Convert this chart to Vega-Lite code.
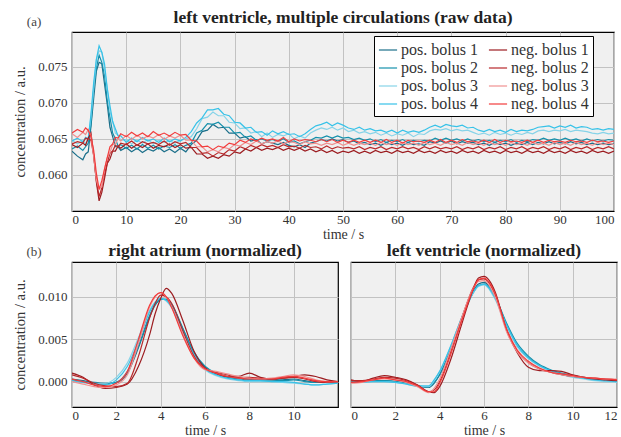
{
"$schema": "https://vega.github.io/schema/vega-lite/v6.json",
"background": "white",
"padding": {"left": 12, "top": 8, "right": 0, "bottom": 0},
"resolve": {"legend": {"color": "independent", "strokeWidth": "independent"}},
"config": {
 "font": "Liberation Serif",
 "view": {"fill": "#f0f0f0", "stroke": "black", "strokeWidth": 1.2},
 "axis": {"grid": true, "gridColor": "#c2c2c2", "gridWidth": 1, "domain": false, "ticks": false, "labelFont": "Liberation Serif", "labelFontSize": 13, "labelColor": "#333", "titleFont": "Liberation Serif", "titleFontSize": 14.5, "titleFontWeight": "normal", "titleColor": "#333"},
 "axisX": {"labelPadding": 2, "titlePadding": 1, "titleFontSize": 14},
 "axisY": {"labelPadding": 5, "titlePadding": 10},
 "title": {"font": "Liberation Serif", "fontSize": 17.5, "fontWeight": "bold", "color": "#222", "frame": "group"},
 "legend": {"orient": "none", "legendX": 302, "legendY": 4, "columns": 2, "columnPadding": 8, "rowPadding": 0, "padding": 4, "labelOffset": 3, "fillColor": "white", "strokeColor": "black", "labelFont": "Liberation Serif", "labelFontSize": 16, "labelColor": "#333", "symbolType": "stroke", "symbolSize": 330}
},
"datasets": {
"raw": [
{"t":0,"p1":0.0633,"p2":0.0636,"p3":0.0648,"p4":0.0647,"n1":0.0642,"n2":0.0643,"n3":0.0657,"n4":0.0658},
{"t":1,"p1":0.0626,"p2":0.0640,"p3":0.0643,"p4":0.0651,"n1":0.0638,"n2":0.0646,"n3":0.0652,"n4":0.0663},
{"t":2,"p1":0.0621,"p2":0.0634,"p3":0.0647,"p4":0.0646,"n1":0.0644,"n2":0.0644,"n3":0.0659,"n4":0.0659},
{"t":2.5,"p1":0.0629,"p2":0.0639,"p3":0.0643,"p4":0.0652,"n1":0.0641,"n2":0.0651,"n3":0.0656,"n4":0.0665},
{"t":3,"p1":0.0632,"p2":0.0644,"p3":0.0650,"p4":0.0650,"n1":0.0651,"n2":0.0650,"n3":0.0663,"n4":0.0662},
{"t":3.5,"p1":0.0667,"p2":0.0670,"p3":0.0680,"p4":0.0684,"n1":0.0658,"n2":0.0648,"n3":0.0654,"n4":0.0653},
{"t":4,"p1":0.0706,"p2":0.0718,"p3":0.0720,"p4":0.0728,"n1":0.0628,"n2":0.0627,"n3":0.0626,"n4":0.0634},
{"t":4.5,"p1":0.0744,"p2":0.0748,"p3":0.0760,"p4":0.0760,"n1":0.0590,"n2":0.0592,"n3":0.0593,"n4":0.0602},
{"t":5,"p1":0.0756,"p2":0.0766,"p3":0.0772,"p4":0.0779,"n1":0.0564,"n2":0.0570,"n3":0.0580,"n4":0.0580},
{"t":5.5,"p1":0.0754,"p2":0.0756,"p3":0.0770,"p4":0.0770,"n1":0.0576,"n2":0.0582,"n3":0.0584,"n4":0.0592},
{"t":6,"p1":0.0726,"p2":0.0738,"p3":0.0746,"p4":0.0754,"n1":0.0595,"n2":0.0600,"n3":0.0608,"n4":0.0608},
{"t":6.5,"p1":0.0698,"p2":0.0703,"p3":0.0720,"p4":0.0720,"n1":0.0616,"n2":0.0616,"n3":0.0624,"n4":0.0624},
{"t":7,"p1":0.0666,"p2":0.0680,"p3":0.0688,"p4":0.0696,"n1":0.0622,"n2":0.0630,"n3":0.0631,"n4":0.0639},
{"t":7.5,"p1":0.0653,"p2":0.0658,"p3":0.0674,"p4":0.0674,"n1":0.0633,"n2":0.0633,"n3":0.0642,"n4":0.0643},
{"t":8,"p1":0.0639,"p2":0.0650,"p3":0.0658,"p4":0.0664,"n1":0.0633,"n2":0.0641,"n3":0.0643,"n4":0.0652},
{"t":8.5,"p1":0.0639,"p2":0.0640,"p3":0.0655,"p4":0.0654,"n1":0.0640,"n2":0.0639,"n3":0.0650,"n4":0.0651},
{"t":9,"p1":0.0634,"p2":0.0642,"p3":0.0648,"p4":0.0654,"n1":0.0637,"n2":0.0644,"n3":0.0647,"n4":0.0657},
{"t":10,"p1":0.0638,"p2":0.0637,"p3":0.0649,"p4":0.0645,"n1":0.0643,"n2":0.0642,"n3":0.0655,"n4":0.0653},
{"t":11,"p1":0.0632,"p2":0.0641,"p3":0.0643,"p4":0.0651,"n1":0.0637,"n2":0.0647,"n3":0.0649,"n4":0.0659},
{"t":12,"p1":0.0637,"p2":0.0636,"p3":0.0648,"p4":0.0646,"n1":0.0642,"n2":0.0641,"n3":0.0655,"n4":0.0654},
{"t":13,"p1":0.0631,"p2":0.0642,"p3":0.0644,"p4":0.0652,"n1":0.0638,"n2":0.0646,"n3":0.0650,"n4":0.0658},
{"t":14,"p1":0.0636,"p2":0.0637,"p3":0.0649,"p4":0.0647,"n1":0.0643,"n2":0.0643,"n3":0.0654,"n4":0.0653},
{"t":15,"p1":0.0633,"p2":0.0641,"p3":0.0643,"p4":0.0650,"n1":0.0637,"n2":0.0645,"n3":0.0651,"n4":0.0660},
{"t":16,"p1":0.0638,"p2":0.0636,"p3":0.0648,"p4":0.0645,"n1":0.0641,"n2":0.0642,"n3":0.0656,"n4":0.0655},
{"t":17,"p1":0.0632,"p2":0.0640,"p3":0.0645,"p4":0.0651,"n1":0.0639,"n2":0.0647,"n3":0.0649,"n4":0.0658},
{"t":18,"p1":0.0636,"p2":0.0638,"p3":0.0647,"p4":0.0646,"n1":0.0643,"n2":0.0641,"n3":0.0654,"n4":0.0654},
{"t":19,"p1":0.0631,"p2":0.0642,"p3":0.0644,"p4":0.0650,"n1":0.0638,"n2":0.0646,"n3":0.0651,"n4":0.0659},
{"t":20,"p1":0.0637,"p2":0.0637,"p3":0.0648,"p4":0.0647,"n1":0.0642,"n2":0.0643,"n3":0.0655,"n4":0.0655},
{"t":21,"p1":0.0632,"p2":0.0641,"p3":0.0650,"p4":0.0652,"n1":0.0637,"n2":0.0645,"n3":0.0648,"n4":0.0656},
{"t":22,"p1":0.0642,"p2":0.0644,"p3":0.0653,"p4":0.0660,"n1":0.0638,"n2":0.0638,"n3":0.0648,"n4":0.0648},
{"t":23,"p1":0.0648,"p2":0.0658,"p3":0.0664,"p4":0.0672,"n1":0.0629,"n2":0.0638,"n3":0.0639,"n4":0.0647},
{"t":24,"p1":0.0660,"p2":0.0662,"p3":0.0678,"p4":0.0679,"n1":0.0629,"n2":0.0630,"n3":0.0639,"n4":0.0639},
{"t":25,"p1":0.0662,"p2":0.0671,"p3":0.0680,"p4":0.0690,"n1":0.0623,"n2":0.0631,"n3":0.0632,"n4":0.0640},
{"t":26,"p1":0.0670,"p2":0.0670,"p3":0.0687,"p4":0.0690,"n1":0.0626,"n2":0.0626,"n3":0.0635,"n4":0.0635},
{"t":27,"p1":0.0665,"p2":0.0673,"p3":0.0682,"p4":0.0692,"n1":0.0623,"n2":0.0631,"n3":0.0632,"n4":0.0640},
{"t":28,"p1":0.0666,"p2":0.0666,"p3":0.0682,"p4":0.0684,"n1":0.0628,"n2":0.0629,"n3":0.0638,"n4":0.0638},
{"t":29,"p1":0.0658,"p2":0.0666,"p3":0.0673,"p4":0.0682,"n1":0.0626,"n2":0.0635,"n3":0.0636,"n4":0.0644},
{"t":30,"p1":0.0658,"p2":0.0658,"p3":0.0672,"p4":0.0673,"n1":0.0632,"n2":0.0633,"n3":0.0642,"n4":0.0642},
{"t":31,"p1":0.0651,"p2":0.0659,"p3":0.0664,"p4":0.0672,"n1":0.0630,"n2":0.0639,"n3":0.0640,"n4":0.0648},
{"t":32,"p1":0.0653,"p2":0.0652,"p3":0.0665,"p4":0.0665,"n1":0.0636,"n2":0.0636,"n3":0.0645,"n4":0.0645},
{"t":33,"p1":0.0647,"p2":0.0654,"p3":0.0658,"p4":0.0666,"n1":0.0633,"n2":0.0641,"n3":0.0642,"n4":0.0650},
{"t":34,"p1":0.0649,"p2":0.0648,"p3":0.0660,"p4":0.0659,"n1":0.0638,"n2":0.0638,"n3":0.0647,"n4":0.0647},
{"t":35,"p1":0.0643,"p2":0.0650,"p3":0.0653,"p4":0.0660,"n1":0.0634,"n2":0.0642,"n3":0.0643,"n4":0.0651},
{"t":36,"p1":0.0646,"p2":0.0647,"p3":0.0658,"p4":0.0655,"n1":0.0637,"n2":0.0639,"n3":0.0646,"n4":0.0648},
{"t":37,"p1":0.0644,"p2":0.0649,"p3":0.0652,"p4":0.0661,"n1":0.0635,"n2":0.0641,"n3":0.0644,"n4":0.0650},
{"t":38,"p1":0.0642,"p2":0.0646,"p3":0.0656,"p4":0.0657,"n1":0.0638,"n2":0.0638,"n3":0.0647,"n4":0.0647},
{"t":39,"p1":0.0645,"p2":0.0650,"p3":0.0654,"p4":0.0660,"n1":0.0634,"n2":0.0642,"n3":0.0643,"n4":0.0652},
{"t":40,"p1":0.0641,"p2":0.0645,"p3":0.0657,"p4":0.0656,"n1":0.0637,"n2":0.0639,"n3":0.0646,"n4":0.0646},
{"t":41,"p1":0.0639,"p2":0.0647,"p3":0.0650,"p4":0.0657,"n1":0.0634,"n2":0.0640,"n3":0.0645,"n4":0.0650},
{"t":42,"p1":0.0642,"p2":0.0643,"p3":0.0654,"p4":0.0653,"n1":0.0637,"n2":0.0637,"n3":0.0642,"n4":0.0647},
{"t":43,"p1":0.0638,"p2":0.0646,"p3":0.0651,"p4":0.0657,"n1":0.0633,"n2":0.0641,"n3":0.0646,"n4":0.0649},
{"t":44,"p1":0.0644,"p2":0.0648,"p3":0.0658,"p4":0.0663,"n1":0.0636,"n2":0.0638,"n3":0.0643,"n4":0.0648},
{"t":45,"p1":0.0646,"p2":0.0652,"p3":0.0662,"p4":0.0668,"n1":0.0632,"n2":0.0639,"n3":0.0644,"n4":0.0646},
{"t":46,"p1":0.0649,"p2":0.0651,"p3":0.0665,"p4":0.0670,"n1":0.0635,"n2":0.0636,"n3":0.0641,"n4":0.0649},
{"t":47,"p1":0.0647,"p2":0.0654,"p3":0.0663,"p4":0.0673,"n1":0.0631,"n2":0.0640,"n3":0.0644,"n4":0.0646},
{"t":48,"p1":0.0650,"p2":0.0651,"p3":0.0666,"p4":0.0668,"n1":0.0634,"n2":0.0636,"n3":0.0642,"n4":0.0649},
{"t":49,"p1":0.0647,"p2":0.0654,"p3":0.0662,"p4":0.0672,"n1":0.0630,"n2":0.0639,"n3":0.0645,"n4":0.0645},
{"t":50,"p1":0.0649,"p2":0.0651,"p3":0.0665,"p4":0.0669,"n1":0.0633,"n2":0.0637,"n3":0.0641,"n4":0.0648},
{"t":51,"p1":0.0645,"p2":0.0652,"p3":0.0660,"p4":0.0665,"n1":0.0631,"n2":0.0638,"n3":0.0644,"n4":0.0645},
{"t":52,"p1":0.0647,"p2":0.0649,"p3":0.0662,"p4":0.0663,"n1":0.0634,"n2":0.0636,"n3":0.0641,"n4":0.0648},
{"t":53,"p1":0.0643,"p2":0.0651,"p3":0.0658,"p4":0.0666,"n1":0.0630,"n2":0.0639,"n3":0.0644,"n4":0.0645},
{"t":54,"p1":0.0645,"p2":0.0648,"p3":0.0660,"p4":0.0662,"n1":0.0633,"n2":0.0635,"n3":0.0642,"n4":0.0648},
{"t":55,"p1":0.0642,"p2":0.0650,"p3":0.0657,"p4":0.0664,"n1":0.0630,"n2":0.0638,"n3":0.0644,"n4":0.0645},
{"t":56,"p1":0.0644,"p2":0.0646,"p3":0.0659,"p4":0.0661,"n1":0.0634,"n2":0.0636,"n3":0.0641,"n4":0.0648},
{"t":57,"p1":0.0641,"p2":0.0649,"p3":0.0655,"p4":0.0662,"n1":0.0631,"n2":0.0639,"n3":0.0645,"n4":0.0645},
{"t":58,"p1":0.0645,"p2":0.0645,"p3":0.0658,"p4":0.0659,"n1":0.0633,"n2":0.0635,"n3":0.0642,"n4":0.0649},
{"t":59,"p1":0.0642,"p2":0.0648,"p3":0.0654,"p4":0.0662,"n1":0.0630,"n2":0.0638,"n3":0.0644,"n4":0.0645},
{"t":60,"p1":0.0644,"p2":0.0646,"p3":0.0657,"p4":0.0658,"n1":0.0634,"n2":0.0636,"n3":0.0641,"n4":0.0648},
{"t":61,"p1":0.0641,"p2":0.0649,"p3":0.0655,"p4":0.0662,"n1":0.0631,"n2":0.0639,"n3":0.0645,"n4":0.0644},
{"t":62,"p1":0.0645,"p2":0.0645,"p3":0.0658,"p4":0.0659,"n1":0.0633,"n2":0.0636,"n3":0.0642,"n4":0.0648},
{"t":63,"p1":0.0642,"p2":0.0648,"p3":0.0653,"p4":0.0661,"n1":0.0630,"n2":0.0638,"n3":0.0644,"n4":0.0646},
{"t":64,"p1":0.0643,"p2":0.0646,"p3":0.0657,"p4":0.0659,"n1":0.0634,"n2":0.0635,"n3":0.0641,"n4":0.0647},
{"t":65,"p1":0.0641,"p2":0.0648,"p3":0.0656,"p4":0.0662,"n1":0.0631,"n2":0.0639,"n3":0.0645,"n4":0.0645},
{"t":66,"p1":0.0646,"p2":0.0647,"p3":0.0661,"p4":0.0666,"n1":0.0633,"n2":0.0636,"n3":0.0642,"n4":0.0648},
{"t":67,"p1":0.0644,"p2":0.0651,"p3":0.0663,"p4":0.0669,"n1":0.0630,"n2":0.0639,"n3":0.0644,"n4":0.0645},
{"t":68,"p1":0.0647,"p2":0.0648,"p3":0.0662,"p4":0.0666,"n1":0.0634,"n2":0.0636,"n3":0.0641,"n4":0.0649},
{"t":69,"p1":0.0644,"p2":0.0651,"p3":0.0664,"p4":0.0670,"n1":0.0631,"n2":0.0638,"n3":0.0645,"n4":0.0645},
{"t":70,"p1":0.0647,"p2":0.0648,"p3":0.0661,"p4":0.0668,"n1":0.0633,"n2":0.0636,"n3":0.0642,"n4":0.0648},
{"t":71,"p1":0.0643,"p2":0.0650,"p3":0.0663,"p4":0.0667,"n1":0.0630,"n2":0.0639,"n3":0.0644,"n4":0.0645},
{"t":72,"p1":0.0646,"p2":0.0647,"p3":0.0661,"p4":0.0669,"n1":0.0634,"n2":0.0635,"n3":0.0641,"n4":0.0649},
{"t":73,"p1":0.0644,"p2":0.0650,"p3":0.0662,"p4":0.0665,"n1":0.0631,"n2":0.0638,"n3":0.0645,"n4":0.0646},
{"t":74,"p1":0.0645,"p2":0.0647,"p3":0.0659,"p4":0.0666,"n1":0.0633,"n2":0.0636,"n3":0.0642,"n4":0.0647},
{"t":75,"p1":0.0642,"p2":0.0649,"p3":0.0656,"p4":0.0662,"n1":0.0630,"n2":0.0639,"n3":0.0644,"n4":0.0645},
{"t":76,"p1":0.0644,"p2":0.0646,"p3":0.0658,"p4":0.0660,"n1":0.0634,"n2":0.0635,"n3":0.0641,"n4":0.0648},
{"t":77,"p1":0.0641,"p2":0.0648,"p3":0.0655,"p4":0.0663,"n1":0.0631,"n2":0.0638,"n3":0.0645,"n4":0.0645},
{"t":78,"p1":0.0645,"p2":0.0645,"p3":0.0659,"p4":0.0660,"n1":0.0633,"n2":0.0636,"n3":0.0642,"n4":0.0649},
{"t":79,"p1":0.0642,"p2":0.0648,"p3":0.0656,"p4":0.0662,"n1":0.0630,"n2":0.0639,"n3":0.0644,"n4":0.0645},
{"t":80,"p1":0.0644,"p2":0.0646,"p3":0.0658,"p4":0.0659,"n1":0.0634,"n2":0.0635,"n3":0.0641,"n4":0.0648},
{"t":81,"p1":0.0641,"p2":0.0649,"p3":0.0655,"p4":0.0663,"n1":0.0631,"n2":0.0638,"n3":0.0645,"n4":0.0646},
{"t":82,"p1":0.0644,"p2":0.0645,"p3":0.0658,"p4":0.0660,"n1":0.0633,"n2":0.0636,"n3":0.0642,"n4":0.0647},
{"t":83,"p1":0.0642,"p2":0.0648,"p3":0.0656,"p4":0.0662,"n1":0.0630,"n2":0.0639,"n3":0.0644,"n4":0.0645},
{"t":84,"p1":0.0645,"p2":0.0646,"p3":0.0659,"p4":0.0661,"n1":0.0634,"n2":0.0635,"n3":0.0641,"n4":0.0648},
{"t":85,"p1":0.0642,"p2":0.0649,"p3":0.0657,"p4":0.0663,"n1":0.0631,"n2":0.0638,"n3":0.0645,"n4":0.0645},
{"t":86,"p1":0.0645,"p2":0.0648,"p3":0.0661,"p4":0.0666,"n1":0.0633,"n2":0.0636,"n3":0.0642,"n4":0.0648},
{"t":87,"p1":0.0643,"p2":0.0651,"p3":0.0662,"p4":0.0667,"n1":0.0630,"n2":0.0639,"n3":0.0644,"n4":0.0645},
{"t":88,"p1":0.0646,"p2":0.0648,"p3":0.0660,"p4":0.0668,"n1":0.0634,"n2":0.0635,"n3":0.0641,"n4":0.0648},
{"t":89,"p1":0.0643,"p2":0.0650,"p3":0.0662,"p4":0.0665,"n1":0.0631,"n2":0.0638,"n3":0.0645,"n4":0.0646},
{"t":90,"p1":0.0645,"p2":0.0648,"p3":0.0661,"p4":0.0668,"n1":0.0633,"n2":0.0636,"n3":0.0642,"n4":0.0647},
{"t":91,"p1":0.0643,"p2":0.0651,"p3":0.0663,"p4":0.0666,"n1":0.0630,"n2":0.0639,"n3":0.0644,"n4":0.0645},
{"t":92,"p1":0.0646,"p2":0.0648,"p3":0.0660,"p4":0.0669,"n1":0.0634,"n2":0.0635,"n3":0.0641,"n4":0.0648},
{"t":93,"p1":0.0643,"p2":0.0650,"p3":0.0662,"p4":0.0665,"n1":0.0631,"n2":0.0638,"n3":0.0645,"n4":0.0646},
{"t":94,"p1":0.0645,"p2":0.0647,"p3":0.0661,"p4":0.0667,"n1":0.0633,"n2":0.0636,"n3":0.0642,"n4":0.0647},
{"t":95,"p1":0.0642,"p2":0.0650,"p3":0.0660,"p4":0.0666,"n1":0.0630,"n2":0.0639,"n3":0.0644,"n4":0.0645},
{"t":96,"p1":0.0644,"p2":0.0647,"p3":0.0658,"p4":0.0663,"n1":0.0634,"n2":0.0635,"n3":0.0641,"n4":0.0648},
{"t":97,"p1":0.0642,"p2":0.0649,"p3":0.0657,"p4":0.0664,"n1":0.0631,"n2":0.0638,"n3":0.0645,"n4":0.0646},
{"t":98,"p1":0.0644,"p2":0.0647,"p3":0.0659,"p4":0.0662,"n1":0.0633,"n2":0.0636,"n3":0.0642,"n4":0.0647},
{"t":99,"p1":0.0642,"p2":0.0649,"p3":0.0657,"p4":0.0664,"n1":0.0630,"n2":0.0639,"n3":0.0644,"n4":0.0645},
{"t":100,"p1":0.0643,"p2":0.0648,"p3":0.0658,"p4":0.0663,"n1":0.0633,"n2":0.0636,"n3":0.0642,"n4":0.0647}
],
"ra": [
{"t":0,"p1":0.0003,"p2":0.0002,"p3":0.0000,"p4":0.0001,"n1":0.0010,"n2":0.0008,"n3":0.0000,"n4":0.0003},
{"t":0.5,"p1":0.0001,"p2":0.0000,"p3":-0.0001,"p4":-0.0001,"n1":0.0005,"n2":0.0004,"n3":-0.0003,"n4":0.0000},
{"t":1,"p1":-0.0001,"p2":-0.0002,"p3":-0.0002,"p4":-0.0003,"n1":-0.0004,"n2":-0.0002,"n3":-0.0006,"n4":-0.0004},
{"t":1.5,"p1":-0.0002,"p2":-0.0003,"p3":-0.0002,"p4":-0.0004,"n1":-0.0008,"n2":-0.0005,"n3":-0.0007,"n4":-0.0006},
{"t":2,"p1":-0.0001,"p2":-0.0001,"p3":0.0005,"p4":0.0002,"n1":-0.0007,"n2":-0.0006,"n3":-0.0004,"n4":-0.0002},
{"t":2.5,"p1":0.0010,"p2":0.0012,"p3":0.0022,"p4":0.0018,"n1":-0.0003,"n2":-0.0002,"n3":0.0008,"n4":0.0012},
{"t":3,"p1":0.0040,"p2":0.0042,"p3":0.0052,"p4":0.0048,"n1":0.0018,"n2":0.0030,"n3":0.0045,"n4":0.0050},
{"t":3.5,"p1":0.0076,"p2":0.0078,"p3":0.0084,"p4":0.0082,"n1":0.0055,"n2":0.0075,"n3":0.0088,"n4":0.0090},
{"t":3.75,"p1":0.0090,"p2":0.0091,"p3":0.0094,"p4":0.0093,"n1":0.0080,"n2":0.0092,"n3":0.0100,"n4":0.0101},
{"t":4,"p1":0.0097,"p2":0.0097,"p3":0.0098,"p4":0.0098,"n1":0.0098,"n2":0.0102,"n3":0.0105,"n4":0.0105},
{"t":4.25,"p1":0.0097,"p2":0.0097,"p3":0.0095,"p4":0.0096,"n1":0.0110,"n2":0.0100,"n3":0.0100,"n4":0.0100},
{"t":4.5,"p1":0.0090,"p2":0.0091,"p3":0.0087,"p4":0.0088,"n1":0.0104,"n2":0.0092,"n3":0.0088,"n4":0.0087},
{"t":5,"p1":0.0062,"p2":0.0063,"p3":0.0057,"p4":0.0059,"n1":0.0072,"n2":0.0060,"n3":0.0056,"n4":0.0054},
{"t":5.5,"p1":0.0034,"p2":0.0035,"p3":0.0030,"p4":0.0032,"n1":0.0036,"n2":0.0030,"n3":0.0028,"n4":0.0028},
{"t":6,"p1":0.0017,"p2":0.0018,"p3":0.0014,"p4":0.0015,"n1":0.0016,"n2":0.0015,"n3":0.0014,"n4":0.0015},
{"t":6.5,"p1":0.0009,"p2":0.0010,"p3":0.0007,"p4":0.0008,"n1":0.0010,"n2":0.0011,"n3":0.0012,"n4":0.0010},
{"t":7,"p1":0.0005,"p2":0.0006,"p3":0.0003,"p4":0.0004,"n1":0.0006,"n2":0.0008,"n3":0.0009,"n4":0.0006},
{"t":7.5,"p1":0.0003,"p2":0.0004,"p3":0.0001,"p4":0.0002,"n1":0.0006,"n2":0.0005,"n3":0.0006,"n4":0.0004},
{"t":8,"p1":0.0002,"p2":0.0003,"p3":0.0000,"p4":0.0001,"n1":0.0010,"n2":0.0005,"n3":0.0004,"n4":0.0003},
{"t":8.5,"p1":0.0002,"p2":0.0002,"p3":0.0000,"p4":0.0001,"n1":0.0005,"n2":0.0004,"n3":0.0003,"n4":0.0003},
{"t":9,"p1":0.0002,"p2":0.0002,"p3":0.0000,"p4":0.0000,"n1":0.0003,"n2":0.0003,"n3":0.0004,"n4":0.0003},
{"t":9.5,"p1":0.0002,"p2":0.0001,"p3":-0.0001,"p4":0.0000,"n1":0.0004,"n2":0.0004,"n3":0.0006,"n4":0.0005},
{"t":10,"p1":0.0003,"p2":0.0002,"p3":-0.0002,"p4":-0.0001,"n1":0.0006,"n2":0.0005,"n3":0.0008,"n4":0.0006},
{"t":10.5,"p1":0.0001,"p2":0.0000,"p3":-0.0003,"p4":-0.0003,"n1":0.0008,"n2":0.0003,"n3":0.0006,"n4":0.0004},
{"t":11,"p1":-0.0001,"p2":-0.0001,"p3":-0.0004,"p4":-0.0004,"n1":0.0006,"n2":0.0000,"n3":0.0002,"n4":0.0001},
{"t":11.5,"p1":-0.0001,"p2":-0.0001,"p3":-0.0003,"p4":-0.0003,"n1":0.0002,"n2":-0.0001,"n3":0.0000,"n4":0.0000},
{"t":12,"p1":0.0000,"p2":-0.0001,"p3":-0.0002,"p4":-0.0002,"n1":0.0000,"n2":0.0000,"n3":0.0000,"n4":0.0000}
],
"lv": [
{"t":0,"p1":0.0000,"p2":0.0000,"p3":-0.0001,"p4":-0.0001,"n1":0.0002,"n2":0.0001,"n3":-0.0002,"n4":-0.0001},
{"t":0.5,"p1":0.0000,"p2":0.0000,"p3":-0.0001,"p4":-0.0001,"n1":0.0000,"n2":0.0001,"n3":-0.0001,"n4":0.0000},
{"t":1,"p1":0.0001,"p2":0.0001,"p3":0.0000,"p4":0.0000,"n1":0.0004,"n2":0.0003,"n3":0.0002,"n4":0.0002},
{"t":1.5,"p1":0.0001,"p2":0.0001,"p3":0.0000,"p4":0.0000,"n1":0.0007,"n2":0.0005,"n3":0.0003,"n4":0.0004},
{"t":2,"p1":0.0000,"p2":0.0000,"p3":-0.0001,"p4":-0.0001,"n1":0.0005,"n2":0.0004,"n3":0.0002,"n4":0.0002},
{"t":2.5,"p1":-0.0002,"p2":-0.0002,"p3":-0.0003,"p4":-0.0003,"n1":0.0002,"n2":0.0001,"n3":-0.0001,"n4":0.0000},
{"t":3,"p1":-0.0005,"p2":-0.0005,"p3":-0.0006,"p4":-0.0005,"n1":-0.0004,"n2":-0.0004,"n3":-0.0006,"n4":-0.0005},
{"t":3.5,"p1":-0.0007,"p2":-0.0006,"p3":-0.0006,"p4":-0.0005,"n1":-0.0012,"n2":-0.0012,"n3":-0.0013,"n4":-0.0012},
{"t":3.75,"p1":-0.0002,"p2":-0.0001,"p3":0.0001,"p4":0.0002,"n1":-0.0013,"n2":-0.0010,"n3":-0.0008,"n4":-0.0012},
{"t":4,"p1":0.0008,"p2":0.0008,"p3":0.0012,"p4":0.0012,"n1":-0.0006,"n2":0.0000,"n3":0.0003,"n4":-0.0002},
{"t":4.5,"p1":0.0038,"p2":0.0038,"p3":0.0042,"p4":0.0042,"n1":0.0026,"n2":0.0035,"n3":0.0038,"n4":0.0032},
{"t":5,"p1":0.0075,"p2":0.0074,"p3":0.0076,"p4":0.0076,"n1":0.0068,"n2":0.0075,"n3":0.0076,"n4":0.0072},
{"t":5.5,"p1":0.0106,"p2":0.0104,"p3":0.0104,"p4":0.0105,"n1":0.0108,"n2":0.0110,"n3":0.0109,"n4":0.0108},
{"t":5.75,"p1":0.0115,"p2":0.0113,"p3":0.0112,"p4":0.0113,"n1":0.0122,"n2":0.0120,"n3":0.0118,"n4":0.0120},
{"t":6,"p1":0.0117,"p2":0.0115,"p3":0.0114,"p4":0.0115,"n1":0.0124,"n2":0.0121,"n3":0.0119,"n4":0.0122},
{"t":6.5,"p1":0.0100,"p2":0.0100,"p3":0.0097,"p4":0.0099,"n1":0.0106,"n2":0.0103,"n3":0.0100,"n4":0.0104},
{"t":7,"p1":0.0068,"p2":0.0070,"p3":0.0066,"p4":0.0068,"n1":0.0062,"n2":0.0063,"n3":0.0060,"n4":0.0063},
{"t":7.5,"p1":0.0042,"p2":0.0045,"p3":0.0041,"p4":0.0043,"n1":0.0034,"n2":0.0036,"n3":0.0035,"n4":0.0037},
{"t":8,"p1":0.0028,"p2":0.0030,"p3":0.0027,"p4":0.0028,"n1":0.0017,"n2":0.0022,"n3":0.0022,"n4":0.0024},
{"t":8.5,"p1":0.0019,"p2":0.0020,"p3":0.0018,"p4":0.0019,"n1":0.0013,"n2":0.0015,"n3":0.0015,"n4":0.0016},
{"t":9,"p1":0.0013,"p2":0.0014,"p3":0.0012,"p4":0.0013,"n1":0.0013,"n2":0.0011,"n3":0.0011,"n4":0.0011},
{"t":9.5,"p1":0.0009,"p2":0.0010,"p3":0.0008,"p4":0.0009,"n1":0.0012,"n2":0.0008,"n3":0.0008,"n4":0.0009},
{"t":10,"p1":0.0006,"p2":0.0007,"p3":0.0005,"p4":0.0006,"n1":0.0008,"n2":0.0006,"n3":0.0006,"n4":0.0007},
{"t":10.5,"p1":0.0004,"p2":0.0005,"p3":0.0003,"p4":0.0004,"n1":0.0005,"n2":0.0005,"n3":0.0005,"n4":0.0005},
{"t":11,"p1":0.0002,"p2":0.0003,"p3":0.0001,"p4":0.0002,"n1":0.0003,"n2":0.0004,"n3":0.0004,"n4":0.0004},
{"t":11.5,"p1":0.0001,"p2":0.0002,"p3":0.0000,"p4":0.0001,"n1":0.0002,"n2":0.0003,"n3":0.0003,"n4":0.0003},
{"t":12,"p1":0.0000,"p2":0.0001,"p3":-0.0001,"p4":0.0000,"n1":0.0001,"n2":0.0002,"n3":0.0003,"n4":0.0002}
]
},
"vconcat": [
 {
  "width": 542, "height": 179,
  "title": {"text": "left ventricle, multiple circulations (raw data)", "offset": -11},
  "layer": [
   {
    "data": {"name": "raw"},
    "transform": [{"fold": ["p1","p2","p3","p4","n1","n2","n3","n4"], "as": ["series","c"]}],
    "mark": {"type": "line", "clip": true},
    "encoding": {
     "x": {"field": "t", "type": "quantitative", "scale": {"domain": [0,100], "nice": false}, "axis": {"values": [0,10,20,30,40,50,60,70,80,90,100], "title": "time / s"}},
     "y": {"field": "c", "type": "quantitative", "scale": {"domain": [0.055,0.0798], "nice": false, "zero": false}, "axis": {"values": [0.06,0.065,0.07,0.075], "format": ".3f", "title": "concentration / a.u."}},
     "color": {"field": "series", "type": "nominal", "scale": {"domain": ["p1","p2","p3","p4","n1","n2","n3","n4"], "range": ["#1b6f8a","#1590ab","#86d3e8","#37c2e8","#9c1c20","#b8282a","#f09090","#f23c3c"]}, "legend": {"title": null, "labelExpr": "{'p1':'pos. bolus 1','p2':'pos. bolus 2','p3':'pos. bolus 3','p4':'pos. bolus 4','n1':'neg. bolus 1','n2':'neg. bolus 2','n3':'neg. bolus 3','n4':'neg. bolus 4'}[datum.value]"}},
     "strokeWidth": {"field": "series", "type": "nominal", "scale": {"domain": ["p1","p2","p3","p4","n1","n2","n3","n4"], "range": [1.2,1.2,2.2,1.2,1.2,1.2,2.2,1.2]}, "legend": {"title": null, "labelExpr": "{'p1':'pos. bolus 1','p2':'pos. bolus 2','p3':'pos. bolus 3','p4':'pos. bolus 4','n1':'neg. bolus 1','n2':'neg. bolus 2','n3':'neg. bolus 3','n4':'neg. bolus 4'}[datum.value]"}}
    }
   },
   {
    "data": {"values": [{}]},
    "mark": {"type": "text", "fontSize": 13, "color": "#444", "font": "Liberation Serif"},
    "encoding": {"x": {"datum": -7.0}, "y": {"datum": 0.0812}, "text": {"value": "(a)"}}
   }
  ]
 },
 {
  "spacing": 11,
  "hconcat": [
   {
    "width": 266, "height": 145,
    "title": {"text": "right atrium (normalized)", "offset": -13},
    "layer": [
     {
      "data": {"name": "ra"},
      "transform": [{"fold": ["p1","p2","p3","p4","n1","n2","n3","n4"], "as": ["series","c"]}],
      "mark": {"type": "line", "clip": true, "interpolate": "monotone", "strokeWidth": 1.2},
      "encoding": {
       "x": {"field": "t", "type": "quantitative", "scale": {"domain": [0,12], "nice": false}, "axis": {"values": [0,2,4,6,8,10], "title": "time / s"}},
       "y": {"field": "c", "type": "quantitative", "scale": {"domain": [-0.003,0.0141], "nice": false, "zero": false}, "axis": {"values": [0,0.005,0.01], "format": ".3f", "title": "concentration / a.u."}},
       "color": {"field": "series", "type": "nominal", "legend": null}
      }
     },
     {
      "data": {"values": [{}]},
      "mark": {"type": "text", "fontSize": 13, "color": "#444", "font": "Liberation Serif"},
      "encoding": {"x": {"datum": -1.71}, "y": {"datum": 0.01527}, "text": {"value": "(b)"}}
     }
    ]
   },
   {
    "width": 266, "height": 145,
    "title": {"text": "left ventricle (normalized)", "offset": 3},
    "data": {"name": "lv"},
    "transform": [{"fold": ["p1","p2","p3","p4","n1","n2","n3","n4"], "as": ["series","c"]}],
    "mark": {"type": "line", "clip": true, "interpolate": "monotone", "strokeWidth": 1.2},
    "encoding": {
     "x": {"field": "t", "type": "quantitative", "scale": {"domain": [0,12], "nice": false}, "axis": {"values": [0,2,4,6,8,10,12], "title": "time / s"}},
     "y": {"field": "c", "type": "quantitative", "scale": {"domain": [-0.003,0.0141], "nice": false, "zero": false}, "axis": {"values": [0,0.005,0.01], "labels": false, "title": null}},
     "color": {"field": "series", "type": "nominal", "legend": null}
    }
   }
  ]
 }
],
"spacing": -2
}
